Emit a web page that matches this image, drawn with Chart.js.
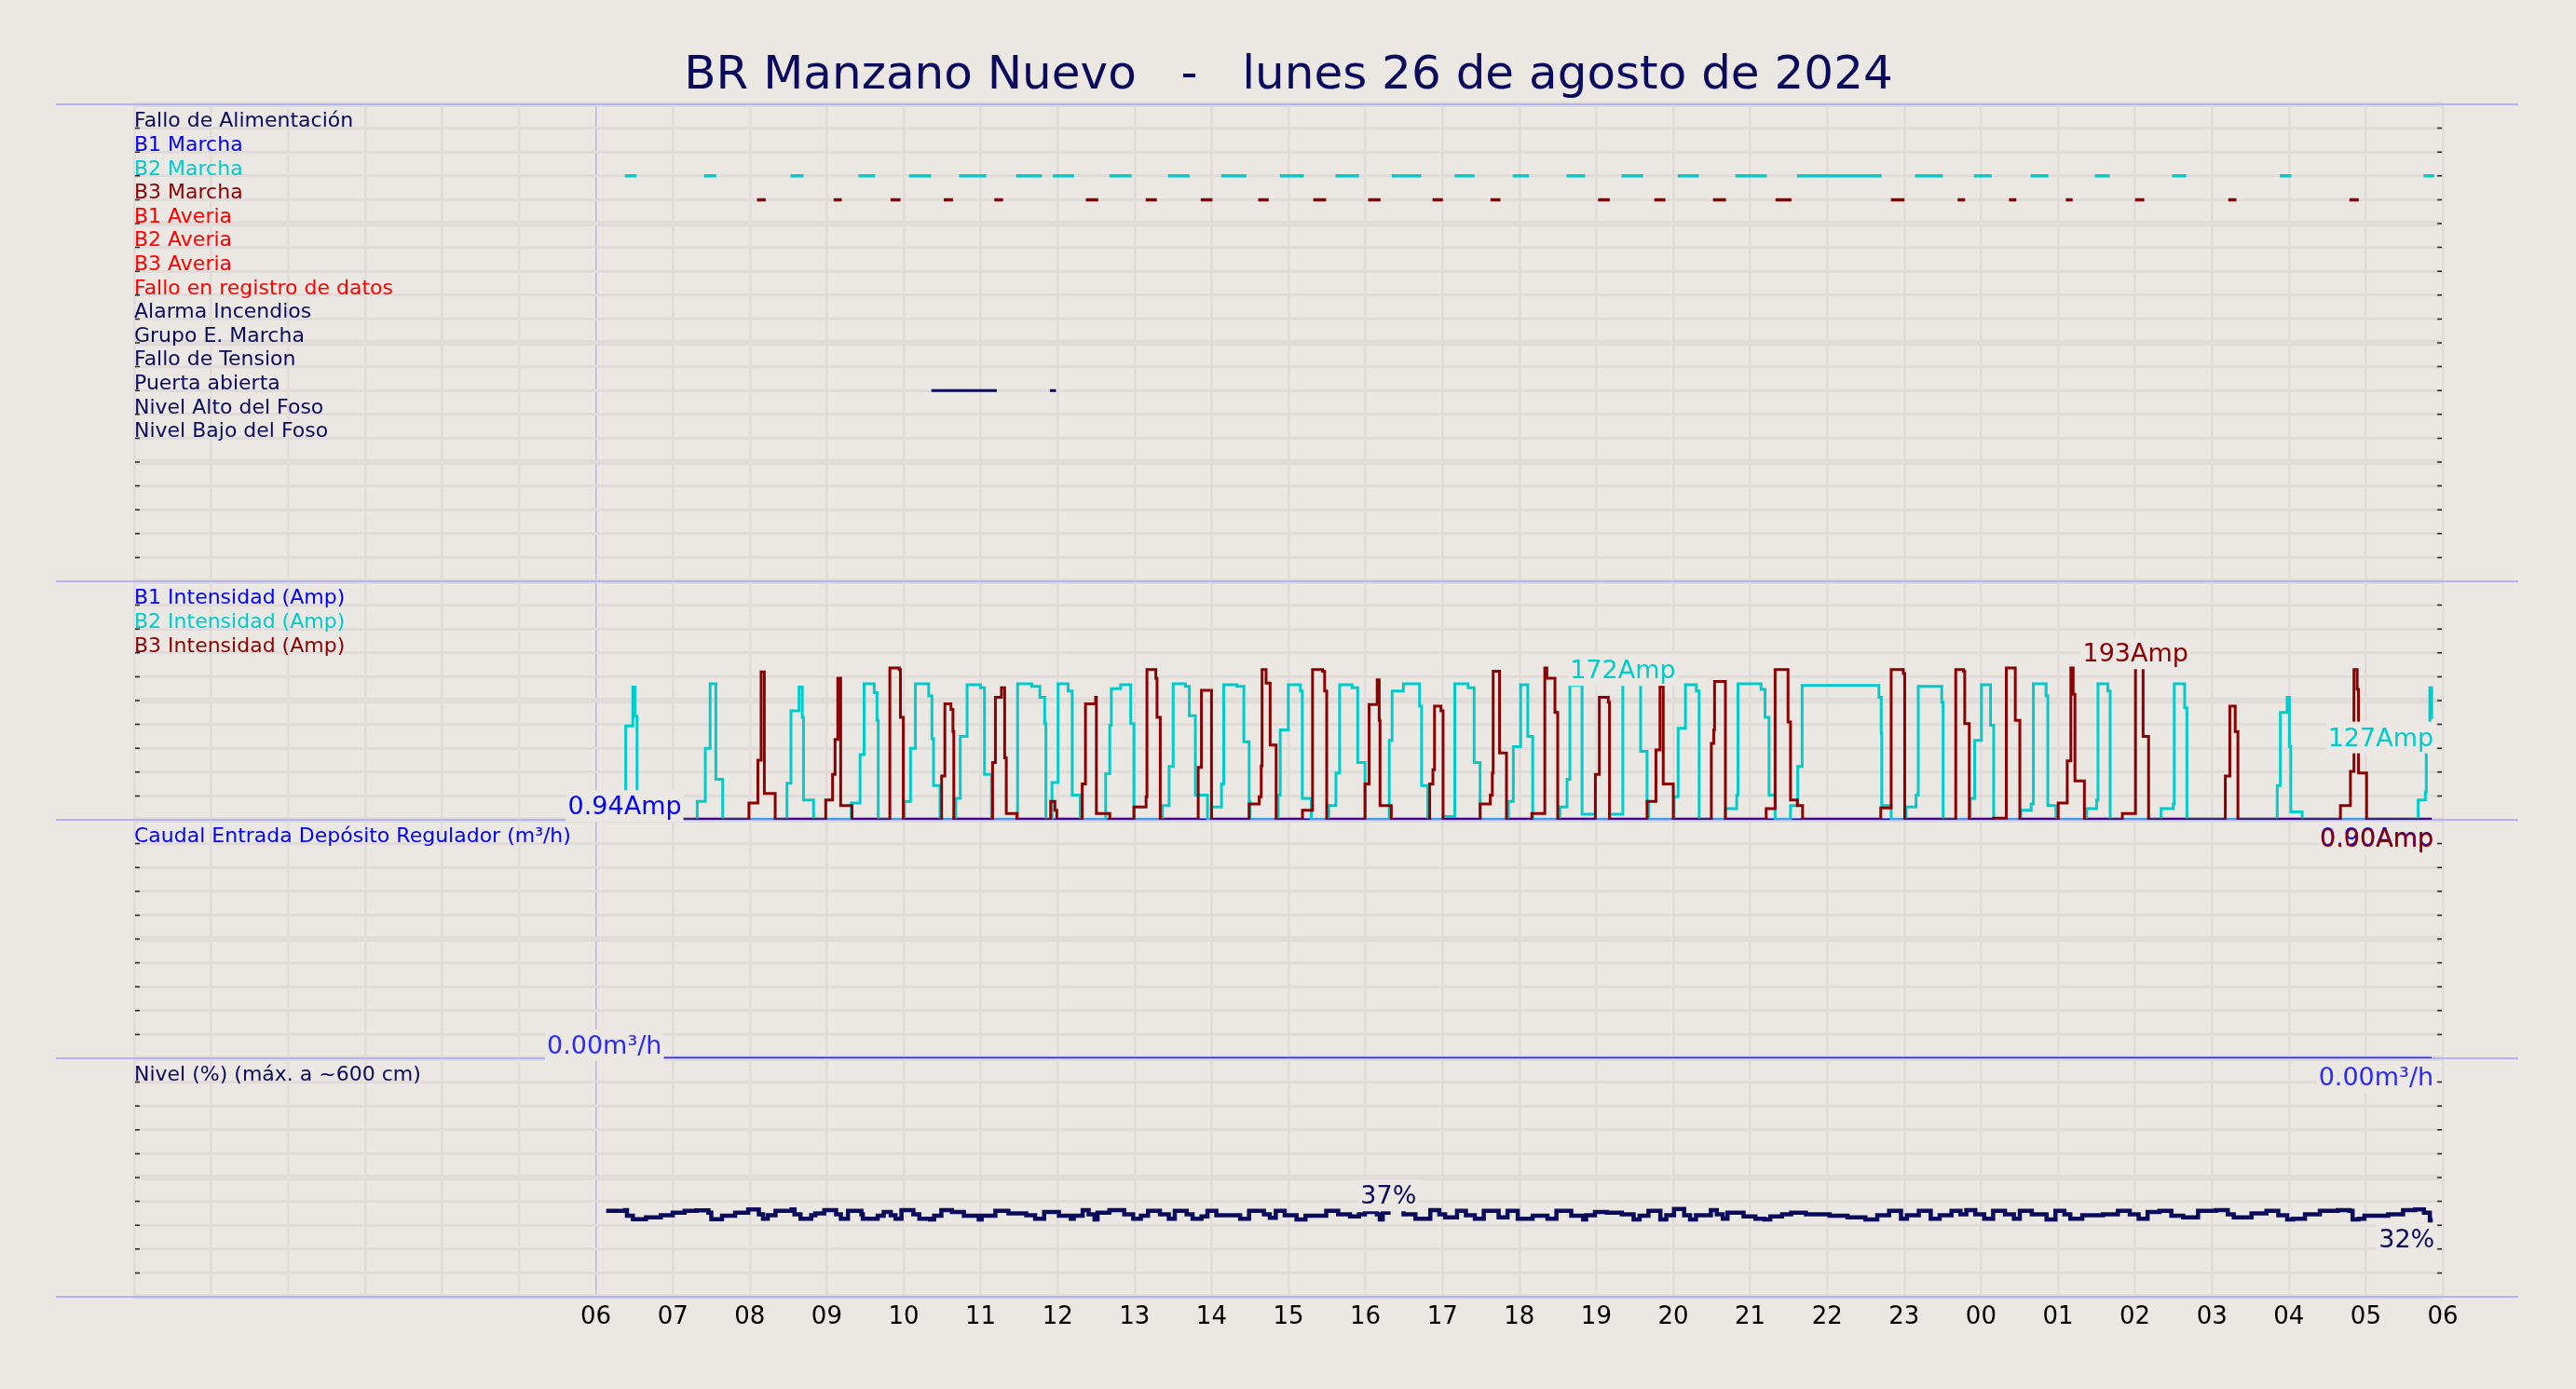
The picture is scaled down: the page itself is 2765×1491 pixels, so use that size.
<!DOCTYPE html>
<html>
<head>
<meta charset="utf-8">
<script src="https://cdn.jsdelivr.net/npm/chart.js@4.4.1/dist/chart.umd.min.js"></script>
<style>
  html, body { margin: 0; padding: 0; background: #ebe7e2; overflow: hidden; }
  #c { display: block; }
</style>
</head>
<body>
<canvas id="c" width="2765" height="1491" style="width:2765px;height:1491px"></canvas>
<script>
// ---------------- DATA ----------------
const titleText = 'BR Manzano Nuevo   -   lunes 26 de agosto de 2024';
const hourLabels = ['06','07','08','09','10','11','12','13','14','15','16','17','18','19','20','21','22','23','00','01','02','03','04','05','06'];

const stateLabels = ['Fallo de Alimentación','B1 Marcha','B2 Marcha','B3 Marcha','B1 Averia','B2 Averia','B3 Averia',
  'Fallo en registro de datos','Alarma Incendios','Grupo E. Marcha','Fallo de Tension','Puerta abierta',
  'Nivel Alto del Foso','Nivel Bajo del Foso'];
const intensityLabels = ['B1 Intensidad (Amp)','B2 Intensidad (Amp)','B3 Intensidad (Amp)'];
const caudalLabels = ['Caudal Entrada Depósito Regulador (m³/h)'];
const nivelLabels = ['Nivel (%) (máx. a ~600 cm)'];

// hours after 06:00 (start, end)
const b2MarchaOn = [[0.376,0.529],[1.404,1.565],[2.528,2.697],[3.411,3.628],[4.070,4.358],[4.720,5.074],[5.459,5.796],
  [5.940,6.214],[6.672,6.961],[7.434,7.715],[8.125,8.454],[8.887,9.201],[9.610,9.915],[10.341,10.726],[11.160,11.417],
  [11.915,12.124],[12.614,12.855],[13.328,13.609],[14.059,14.332],[14.806,15.215],[15.609,16.708],[17.143,17.504],
  [17.906,18.138],[18.644,18.876],[19.479,19.672],[20.483,20.667],[21.880,22.034],[23.750,23.887]];
const b3MarchaOn = [[2.094,2.207],[3.090,3.195],[3.829,3.958],[4.520,4.640],[5.178,5.291],[6.366,6.527],[7.145,7.290],
  [7.860,8.012],[8.607,8.743],[9.322,9.490],[10.036,10.196],[10.872,11.007],[11.626,11.754],[13.023,13.176],
  [13.754,13.898],[14.517,14.685],[15.328,15.536],[16.829,17.006],[17.696,17.793],[18.363,18.459],[19.102,19.190],
  [20.001,20.121],[21.213,21.318],[22.787,22.908]];
const puertaOn = [[4.36,5.21],[5.90,5.98]];

// [hours after 06:00, Amp]
const b1Series = [[0.11,0.9],[0.375,0.94],[0.45,0.9],[1.989,0],[2.33,0.9],[2.987,0],[3.328,0.9],[3.82,0],[3.995,0.9],
  [4.493,0],[4.651,0.9],[5.155,0],[5.47,0.9],[5.91,0],[5.99,0.9],[6.32,0],[6.678,0.9],[6.992,0],[7.334,0.9],[7.827,0],
  [8.0,0.9],[8.488,0],[8.84,0.9],[9.182,0],[9.497,0.9],[9.995,0],[10.336,0.9],[10.835,0],[11.009,0.9],[11.491,0],
  [11.833,0.9],[12.163,0],[12.499,0.9],[12.988,0],[13.172,0.9],[13.66,0],[14.001,0.9],[14.495,0],[14.678,0.9],
  [15.208,0],[15.681,0.9],[16.697,0],[17.008,0.9],[17.671,0],[17.847,0.9],[18.164,0],[18.504,0.9],[19.003,0],
  [19.343,0.9],[19.836,0],[20.177,0.9],[21.174,0],[21.338,0.9],[22.67,0],[23.01,0.9],[23.856,0.9]];

const b2Series = [[0.11,0],
  [0.388,118],[0.48,167],[0.51,130],[0.535,0],
  [1.317,23],[1.422,90],[1.485,171],[1.559,51],[1.648,0],
  [2.483,46],[2.535,137],[2.64,167],[2.682,129],[2.698,25],[2.829,0],
  [3.318,21],[3.433,82],[3.486,171],[3.617,160],[3.653,125],[3.669,0],
  [4.01,23],[4.089,90],[4.152,171],[4.325,156],[4.367,102],[4.388,43],[4.472,0],
  [4.677,27],[4.735,105],[4.824,170],[4.997,166],[5.05,57],[5.14,0],
  [5.48,171],[5.664,168],[5.77,154],[5.832,121],[5.848,0],
  [5.927,47],[6.006,171],[6.137,162],[6.19,31],[6.294,0],
  [6.625,58],[6.678,119],[6.698,165],[6.819,170],[6.95,121],[6.992,0],
  [7.36,18],[7.449,67],[7.502,171],[7.66,168],[7.712,131],[7.79,31],[7.948,0],
  [8.0,16],[8.13,45],[8.158,170],[8.33,168],[8.42,98],[8.489,23],[8.5,0],
  [8.867,31],[8.893,113],[8.998,170],[9.155,162],[9.18,27],[9.297,0],
  [9.523,18],[9.617,59],[9.665,170],[9.827,166],[9.9,72],[9.995,0],
  [10.31,100],[10.347,162],[10.494,171],[10.704,143],[10.73,43],[10.81,0],
  [11.009,4],[11.161,171],[11.334,166],[11.413,72],[11.49,0],
  [11.859,23],[11.922,92],[12.017,170],[12.11,105],[12.174,0],
  [12.526,16],[12.62,51],[12.657,169],[12.815,7],[12.99,0],
  [13.17,7],[13.345,172],[13.576,86],[13.66,23],[13.68,0],
  [14.01,29],[14.064,115],[14.159,170],[14.3,162],[14.337,0],
  [14.678,14],[14.825,31],[14.841,171],[15.14,164],[15.193,129],[15.245,31],[15.324,0],
  [15.524,18],[15.618,67],[15.675,169],[16.673,154],[16.703,109],[16.71,18],[16.832,0],
  [17.026,16],[17.155,31],[17.184,168],[17.489,148],[17.507,0],
  [17.859,27],[17.917,100],[18.005,170],[18.123,119],[18.164,0],
  [18.516,12],[18.651,20],[18.68,171],[18.845,156],[18.868,18],[18.974,0],
  [19.373,14],[19.502,25],[19.52,171],[19.648,162],[19.678,0],
  [20.341,14],[20.499,20],[20.511,171],[20.646,141],[20.675,0],
  [21.849,43],[21.89,135],[21.978,154],[22.007,92],[22.025,10],[22.172,0],
  [23.68,25],[23.774,35],[23.786,102],[23.832,166],[23.856,127]];

const b3Series = [[0.11,0],
  [1.989,21],[2.105,75],[2.147,186],[2.189,33],[2.33,0],
  [2.987,25],[3.076,57],[3.108,101],[3.144,178],[3.181,18],[3.328,0],
  [3.82,191],[3.942,189],[3.958,129],[3.995,0],
  [4.493,55],[4.535,146],[4.614,139],[4.64,111],[4.651,0],
  [5.155,72],[5.192,154],[5.27,166],[5.312,78],[5.333,8],[5.47,0],
  [5.91,23],[5.965,12],[5.99,0],
  [6.32,45],[6.362,146],[6.494,154],[6.504,8],[6.678,0],
  [6.992,16],[7.15,29],[7.161,189],[7.276,178],[7.292,129],[7.334,0],
  [7.827,66],[7.869,163],[8.0,0],
  [8.488,20],[8.62,29],[8.646,68],[8.657,189],[8.709,172],[8.762,94],[8.84,0],
  [9.182,12],[9.313,189],[9.444,187],[9.47,162],[9.497,0],
  [9.995,45],[10.048,145],[10.153,176],[10.179,125],[10.19,18],[10.336,0],
  [10.835,45],[10.877,63],[10.898,143],[10.982,137],[11.009,0],
  [11.491,20],[11.623,31],[11.649,59],[11.66,187],[11.743,84],[11.833,0],
  [12.163,8],[12.331,191],[12.358,178],[12.463,135],[12.499,0],
  [12.988,57],[13.04,154],[13.156,148],[13.172,0],
  [13.66,23],[13.775,88],[13.828,168],[13.87,45],[14.001,0],
  [14.495,96],[14.526,113],[14.537,174],[14.678,0],
  [15.208,14],[15.324,189],[15.492,123],[15.524,25],[15.613,18],[15.681,0],
  [16.697,15],[16.832,189],[16.99,184],[17.008,0],
  [17.671,189],[17.771,187],[17.788,121],[17.847,0],
  [18.164,2],[18.328,191],[18.445,125],[18.504,0],
  [19.003,21],[19.12,74],[19.167,191],[19.197,158],[19.22,49],[19.343,0],
  [19.836,8],[20.007,193],[20.106,105],[20.177,0],
  [21.174,55],[21.233,143],[21.303,111],[21.338,0],
  [22.67,18],[22.8,61],[22.846,189],[22.888,164],[22.905,59],[23.01,0],
  [23.856,0]];

const caudalSeries = [[0.11,0],[23.856,0]];

const nivelSeries = [[0.134,36.0],[0.381,36.3],[0.404,34.0],[0.481,32.5],[0.651,33.3],[0.844,34.2],[0.999,35.3],
  [1.153,36.0],[1.307,36.2],[1.462,35.3],[1.5,32.5],[1.639,34.0],[1.809,35.3],[1.979,36.6],[2.118,34.6],[2.172,32.7],
  [2.234,34.2],[2.334,36.0],[2.543,36.6],[2.581,34.6],[2.659,32.7],[2.798,34.2],[2.852,35.0],[2.968,36.3],[3.122,34.6],
  [3.184,32.7],[3.276,36.0],[3.45,34.6],[3.469,32.7],[3.662,34.0],[3.74,35.5],[3.832,34.2],[3.894,32.7],[3.971,36.3],
  [4.126,34.6],[4.203,32.7],[4.342,32.4],[4.396,34.0],[4.489,36.3],[4.627,35.5],[4.782,34.0],[4.975,32.4],[5.013,34.0],
  [5.191,36.0],[5.361,35.0],[5.593,34.2],[5.708,32.7],[5.825,35.5],[6.017,34.0],[6.172,32.7],[6.21,34.0],[6.326,36.3],
  [6.403,34.6],[6.48,32.4],[6.519,35.3],[6.673,36.3],[6.866,34.6],[6.982,32.7],[7.082,34.0],[7.175,36.0],[7.33,34.6],
  [7.445,32.7],[7.523,36.0],[7.677,34.6],[7.754,32.7],[7.87,33.7],[7.947,36.0],[8.063,34.2],[8.372,32.7],[8.488,36.0],
  [8.681,34.6],[8.758,33.1],[8.835,36.0],[8.951,34.2],[9.105,32.4],[9.221,34.0],[9.491,36.0],[9.646,34.6],[9.8,33.7],
  [9.916,34.6],[9.993,35.5],[10.148,34.6],[10.187,32.4],[10.225,35.3],[10.3,37.0],[10.495,34.6],[10.65,32.7],
  [10.843,36.3],[10.96,34.6],[11.036,33.3],[11.19,36.0],[11.306,34.2],[11.422,32.7],[11.538,36.0],[11.731,33.3],
  [11.847,36.0],[11.98,32.7],[12.173,34.0],[12.366,32.7],[12.482,36.0],[12.675,34.0],[12.829,32.4],[12.868,34.2],
  [12.983,35.5],[13.138,35.3],[13.331,34.6],[13.485,32.4],[13.563,34.0],[13.678,36.0],[13.833,32.4],[13.91,34.2],
  [14.01,36.8],[14.142,34.2],[14.219,32.4],[14.296,34.2],[14.489,36.3],[14.566,34.6],[14.644,32.7],[14.705,35.3],
  [14.914,33.7],[15.068,32.7],[15.184,32.4],[15.261,33.7],[15.415,34.6],[15.531,35.3],[15.724,34.6],[16.033,34.0],
  [16.265,33.3],[16.497,32.4],[16.651,34.2],[16.805,36.0],[16.96,32.7],[17.037,34.2],[17.191,36.0],[17.346,32.7],
  [17.462,34.2],[17.616,36.0],[17.732,34.6],[17.809,36.3],[17.925,34.6],[18.041,32.7],[18.157,36.0],[18.311,34.6],
  [18.427,32.7],[18.504,36.0],[18.659,34.6],[18.851,32.4],[18.967,36.0],[19.083,34.6],[19.16,32.7],[19.315,34.2],
  [19.585,34.6],[19.778,36.0],[19.932,34.6],[20.048,32.7],[20.164,35.5],[20.318,36.0],[20.473,34.0],[20.627,33.3],
  [20.82,36.0],[21.052,36.3],[21.206,34.6],[21.284,33.3],[21.515,35.0],[21.708,36.0],[21.863,34.2],[21.978,32.4],
  [22.056,32.7],[22.21,34.6],[22.403,36.0],[22.635,36.3],[22.789,36.0],[22.828,32.4],[22.905,32.7],[22.982,34.0],
  [23.291,34.6],[23.484,36.3],[23.639,36.6],[23.755,35.3],[23.832,32.0],[23.87,32.0]];

// ---------------- STYLE ----------------
const BG = '#ebe7e2', GRID = '#e1dcda', LAV = '#b3b3fb';
const NAVY = '#0b0b5e', BLUE = '#0000ff', CYAN = '#00cccc', DRED = '#8b0000', RED = '#ff0000';
const stateColors = [NAVY, BLUE, CYAN, DRED, RED, RED, RED, RED, NAVY, NAVY, NAVY, NAVY, NAVY, NAVY];
const intensityColors = [BLUE, CYAN, DRED];

Chart.defaults.font.family = 'DejaVu Sans';

const toPts = s => s.map(([x, y]) => ({x, y}));
function intervals(iv, row) {
  const pts = [];
  iv.forEach(([a, b]) => { pts.push({x: a, y: row}, {x: b, y: row}, {x: b, y: null}); });
  return pts;
}

function yAxis(opts) {
  return Object.assign({
    type: 'linear', position: 'left', stack: 'panels', offset: false,
    ticks: {
      stepSize: opts.step, autoSkip: false, maxTicksLimit: 100, mirror: true, padding: 0, labelOffset: -7,
      font: {size: 22}, color: ctx => opts.colorOf(ctx.tick.value) || '#000',
      callback: v => opts.labelOf(v) || ''
    },
    grid: { drawTicks: false, color: GRID, lineWidth: ctx => (ctx.index % 5 === 0 ? 6 : 3) },
    border: { display: false },
    afterFit: s => { s.width = 0; s.paddingTop = 0; s.paddingBottom = 0; }
  }, opts.base);
}

const decor = {
  id: 'decor',
  beforeDraw(chart) {
    const c = chart.ctx;
    c.save(); c.fillStyle = BG; c.fillRect(0, 0, chart.width, chart.height); c.restore();
  },
  beforeDatasetsDraw(chart) {
    const c = chart.ctx, a = chart.chartArea;
    c.save();
    const ids = ['yS', 'yI', 'yC', 'yN'];
    c.strokeStyle = '#222'; c.lineWidth = 1.5;
    ids.forEach(id => {
      const s = chart.scales[id];
      s.ticks.forEach((t, i) => {
        const y = s.getPixelForTick(i);
        c.beginPath();
        c.moveTo(a.left + 1, y); c.lineTo(a.left + 6, y);
        c.moveTo(a.right - 6, y); c.lineTo(a.right - 1, y);
        c.stroke();
      });
    });
    c.strokeStyle = LAV; c.lineWidth = 2;
    const ys = new Set();
    ids.forEach(id => { ys.add(chart.scales[id].top); ys.add(chart.scales[id].bottom); });
    ys.forEach(y => { c.beginPath(); c.moveTo(a.left - 84, y); c.lineTo(a.right + 81, y); c.stroke(); });
    c.restore();
  },
  afterDatasetsDraw(chart) {
    const c = chart.ctx, xs = chart.scales.x;
    const items = [];
    chart.data.datasets.forEach(ds => {
      if (!ds.unit) return;
      const ys = chart.scales[ds.yAxisID];
      const pts = ds.data;
      let mi = 0;
      pts.forEach((p, i) => { if (p.y > pts[mi].y) mi = i; });
      const last = pts[pts.length - 1];
      const fmt = v => (v >= 10 ? v.toFixed(0) : v.toFixed(2)) + ds.unit;
      items.push({t: fmt(pts[mi].y), x: xs.getPixelForValue(pts[mi].x), y: ys.getPixelForValue(pts[mi].y) - 5, al: 'center', col: ds.borderColor});
      items.push({t: fmt(last.y), x: xs.getPixelForValue(last.x) + 2, y: ys.getPixelForValue(last.y) + 29, al: 'right', col: ds.borderColor});
    });
    c.save();
    c.font = '27px "DejaVu Sans"';
    items.forEach(it => {
      const w = c.measureText(it.t).width;
      const x0 = it.al === 'center' ? it.x - w / 2 : it.x - w;
      c.fillStyle = BG; c.fillRect(x0 - 2, it.y - 26, w + 4, 34);
    });
    items.forEach(it => {
      c.fillStyle = it.col; c.textAlign = it.al; c.textBaseline = 'alphabetic';
      c.fillText(it.t, it.x, it.y);
    });
    c.restore();
  }
};

const lineBase = { pointRadius: 0, pointHoverRadius: 0, fill: false, tension: 0 };

new Chart(document.getElementById('c'), {
  type: 'line',
  data: {
    datasets: [
      Object.assign({}, lineBase, { label: 'B2 Marcha', data: intervals(b2MarchaOn, 3), yAxisID: 'yS', borderColor: CYAN, borderWidth: 3.5, spanGaps: false, borderCapStyle: 'butt', order: 1 }),
      Object.assign({}, lineBase, { label: 'B3 Marcha', data: intervals(b3MarchaOn, 4), yAxisID: 'yS', borderColor: DRED, borderWidth: 3.5, spanGaps: false, borderCapStyle: 'butt', order: 1 }),
      Object.assign({}, lineBase, { label: 'Puerta abierta', data: intervals(puertaOn, 12), yAxisID: 'yS', borderColor: NAVY, borderWidth: 3, spanGaps: false, borderCapStyle: 'butt', order: 1 }),
      Object.assign({}, lineBase, { label: 'B1', data: toPts(b1Series), yAxisID: 'yI', borderColor: BLUE, borderWidth: 3, stepped: true, unit: 'Amp', order: 5 }),
      Object.assign({}, lineBase, { label: 'B2', data: toPts(b2Series), yAxisID: 'yI', borderColor: CYAN, borderWidth: 3, stepped: true, unit: 'Amp', order: 4 }),
      Object.assign({}, lineBase, { label: 'B3', data: toPts(b3Series), yAxisID: 'yI', borderColor: DRED, borderWidth: 3, stepped: true, unit: 'Amp', order: 3 }),
      Object.assign({}, lineBase, { label: 'Caudal', data: toPts(caudalSeries), yAxisID: 'yC', borderColor: '#2a2aff', borderWidth: 3, stepped: true, unit: 'm³/h', order: 2 }),
      Object.assign({}, lineBase, { label: 'Nivel', data: toPts(nivelSeries), yAxisID: 'yN', borderColor: NAVY, borderWidth: 4.5, stepped: true, unit: '%', order: 2 })
    ]
  },
  options: {
    responsive: false, animation: false, devicePixelRatio: 1,
    events: [],
    layout: { padding: { left: 144, right: 143, top: 0, bottom: 0 } },
    plugins: {
      legend: { display: false },
      tooltip: { enabled: false },
      title: { display: true, text: titleText, color: NAVY, font: { size: 50, weight: 'normal' }, padding: { top: 52, bottom: 0 } }
    },
    scales: {
      x: {
        type: 'linear', position: 'bottom', min: -6, max: 24,
        ticks: { stepSize: 1, autoSkip: false, maxRotation: 0, maxTicksLimit: 100, color: '#000', font: { size: 26 }, padding: 7,
          callback: v => hourLabels[v] || '' },
        grid: { drawTicks: false,
          color: ctx => (ctx.tick && ctx.tick.value === 0 ? LAV : GRID),
          lineWidth: ctx => (ctx.tick && ctx.tick.value === 0 ? 1.5 : 2.5) },
        border: { display: false },
        afterFit: s => { s.height = 99; }
      },
      yS: yAxis({ step: 1, base: { min: 0, max: 20, reverse: true, stackWeight: 2, weight: 4 },
        labelOf: v => stateLabels[v - 1], colorOf: v => stateColors[v - 1] }),
      yI: yAxis({ step: 30, base: { min: 0, max: 300, stackWeight: 1, weight: 3 },
        labelOf: v => intensityLabels[(300 - v) / 30 - 1], colorOf: v => intensityColors[(300 - v) / 30 - 1] }),
      yC: yAxis({ step: 1, base: { min: 0, max: 10, stackWeight: 1, weight: 2 },
        labelOf: v => caudalLabels[10 - v - 1], colorOf: v => (v === 9 ? BLUE : null) }),
      yN: yAxis({ step: 10, base: { min: 0, max: 100, stackWeight: 1, weight: 1 },
        labelOf: v => nivelLabels[(100 - v) / 10 - 1], colorOf: v => (v === 90 ? NAVY : null) })
    }
  },
  plugins: [decor]
});
</script>
</body>
</html>
